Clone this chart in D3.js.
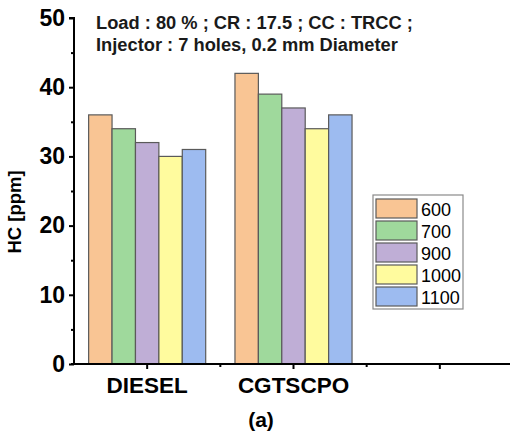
<!DOCTYPE html>
<html>
<head>
<meta charset="utf-8">
<script src="https://cdn.jsdelivr.net/npm/d3@7"></script>
<style>
  html, body { margin: 0; padding: 0; background: #fff; }
  svg { display: block; }
  text { font-family: Arial, "Liberation Sans", sans-serif; }
</style>
</head>
<body>
<svg id="chart" width="510" height="441"></svg>
<script>
// Fuel categories (third slot is left empty on the axis)
const categories = ["DIESEL", "CGTSCPO", ""];
// Injection pressure series (bar)
const series = ["600", "700", "900", "1000", "1100"];
// HC emissions [ppm] per fuel, one array per series
const hc600  = [36, 42];
const hc700  = [34, 39];
const hc900  = [32, 37];
const hc1000 = [30, 34];
const hc1100 = [31, 36];
const seriesValues = [hc600, hc700, hc900, hc1000, hc1100];
const colors = ["#F9C594", "#9FD99C", "#BFAED6", "#FFFB9E", "#9DBBF0"];
const yTicks = [0, 10, 20, 30, 40, 50];
const noteLines = [
  "Load : 80 % ; CR : 17.5 ; CC : TRCC ;",
  "Injector : 7 holes, 0.2 mm Diameter"
];

const svg = d3.select("#chart");
const plotLeft = 74, plotRight = 513, plotTop = 18, plotBottom = 364;

const x0 = d3.scaleBand().domain(categories).range([plotLeft, plotRight]).padding(0);
const x1 = d3.scaleBand().domain(series)
  .range([x0.bandwidth() * 0.1, x0.bandwidth() * 0.9]).padding(0);
const y = d3.scaleLinear().domain([0, 50]).range([plotBottom, plotTop]);

// Bars
const data = [];
categories.forEach((c, ci) => {
  series.forEach((s, si) => {
    const v = seriesValues[si][ci];
    if (v !== undefined) data.push({ c, s, si, v });
  });
});
svg.append("g").selectAll("rect").data(data).join("rect")
  .attr("x", d => x0(d.c) + x1(d.s))
  .attr("y", d => y(d.v))
  .attr("width", x1.bandwidth())
  .attr("height", d => y(0) - y(d.v))
  .attr("fill", d => colors[d.si])
  .attr("stroke", "#5a5a5a")
  .attr("stroke-width", 1.2);

// Y axis: major ticks with labels, minor ticks between
const yAxis = svg.append("g").attr("transform", `translate(${plotLeft},0)`);
yAxis.call(d3.axisLeft(y).tickValues(yTicks).tickSize(5).tickPadding(4).tickFormat(d3.format("d")));
const yMinor = svg.append("g").attr("transform", `translate(${plotLeft},0)`);
yMinor.call(d3.axisLeft(y).tickValues([5, 15, 25, 35, 45]).tickSize(3).tickFormat(""));
yMinor.select(".domain").remove();
[yAxis, yMinor].forEach(g => {
  g.selectAll("line").attr("stroke", "#000").attr("stroke-width", 2);
});
yAxis.select(".domain").attr("stroke", "#000").attr("stroke-width", 2)
  .attr("d", `M-5,${plotTop}H0V${plotBottom}`);
yAxis.selectAll("text").attr("font-size", 23).attr("font-weight", "bold").attr("fill", "#000");

// X axis: major ticks at category centres, minor ticks at category edges
const xAxis = svg.append("g").attr("transform", `translate(0,${plotBottom})`);
xAxis.call(d3.axisBottom(x0).tickSize(5).tickPadding(8));
xAxis.select(".domain").attr("stroke", "#000").attr("stroke-width", 2)
  .attr("d", `M${plotLeft - 3},0H${plotRight}`);
xAxis.selectAll("line").attr("stroke", "#000").attr("stroke-width", 2);
xAxis.selectAll("text").attr("font-size", 22.5).attr("font-weight", "bold").attr("fill", "#000");
const edges = categories.slice(1).map(c => x0(c));
xAxis.selectAll(".minor").data(edges).join("line")
  .attr("x1", d => d).attr("x2", d => d).attr("y1", 0).attr("y2", 3)
  .attr("stroke", "#000").attr("stroke-width", 2);

// Y axis title
svg.append("text")
  .attr("transform", "translate(21,212) rotate(-90)")
  .attr("text-anchor", "middle")
  .attr("font-size", 18.5).attr("font-weight", "bold").attr("fill", "#000")
  .text("HC [ppm]");

// Operating-condition note
svg.append("g").selectAll("text").data(noteLines).join("text")
  .attr("x", 96).attr("y", (d, i) => 29 + i * 22)
  .attr("font-size", 18.3).attr("font-weight", "bold").attr("fill", "#1a1a1a")
  .text(d => d);

// Legend
const lg = svg.append("g").attr("transform", "translate(373,195)");
lg.append("rect").attr("width", 90).attr("height", 114)
  .attr("fill", "#fff").attr("stroke", "#8a8a8a").attr("stroke-width", 1.2);
const rows = lg.selectAll("g.row").data(series).join("g")
  .attr("transform", (d, i) => `translate(3,${4 + i * 22})`);
rows.append("rect").attr("width", 41).attr("height", 19)
  .attr("fill", (d, i) => colors[i]).attr("stroke", "#5a5a5a").attr("stroke-width", 1.2);
rows.append("text").attr("x", 45).attr("y", 16.5)
  .attr("font-size", 18).attr("fill", "#000").text(d => d);

// Panel label
svg.append("text")
  .attr("x", 261).attr("y", 427).attr("text-anchor", "middle")
  .attr("font-family", "'DejaVu Serif', 'Liberation Serif', serif")
  .attr("font-size", 21).attr("font-weight", "bold").attr("fill", "#000")
  .text("(a)");
</script>
</body>
</html>
